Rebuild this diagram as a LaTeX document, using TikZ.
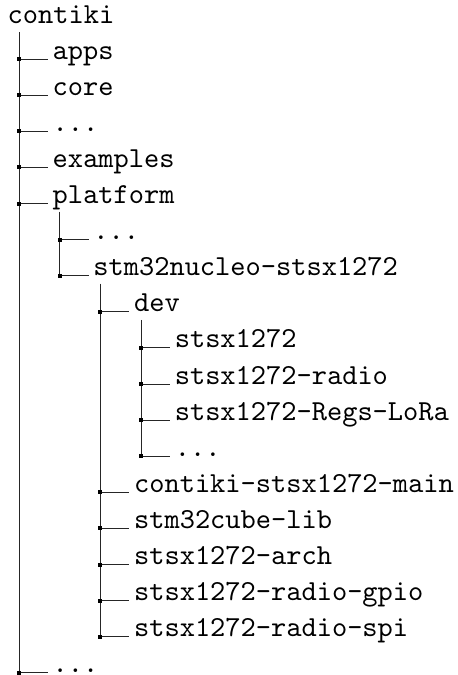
\documentclass[tikz,border=0pt]{standalone}
\font\dirtt=cmtt10 at 29pt
\newcommand\rowY[1]{-(23+36.1*#1)}
\begin{document}
\begin{tikzpicture}[x=1pt,y=1pt,
  lbl/.style={anchor=base west, inner xsep=4.5pt, inner ysep=0pt, font=\dirtt},
  jdot/.style={fill=black, inner sep=0pt, minimum size=4pt, rectangle},
  tline/.style={line width=1pt, draw=black!85}]
\useasboundingbox (0,0) rectangle (458,-675);
% level x positions
\def\xa{19}\def\xb{59.7}\def\xc{100.4}\def\xd{141.1}
% root
\node[lbl, inner xsep=0pt] (n0) at (7.5,{\rowY{0}}) {contiki};
% junction coordinates
\coordinate (j1) at (\xa,{\rowY{1}});
\coordinate (j2) at (\xa,{\rowY{2}});
\coordinate (j3) at (\xa,{\rowY{3}});
\coordinate (j4) at (\xa,{\rowY{4}});
\coordinate (j5) at (\xa,{\rowY{5}});
\coordinate (j6) at (\xb,{\rowY{6}});
\coordinate (j7) at (\xb,{\rowY{7}});
\coordinate (j8) at (\xc,{\rowY{8}});
\coordinate (j9) at (\xd,{\rowY{9}});
\coordinate (j10) at (\xd,{\rowY{10}});
\coordinate (j11) at (\xd,{\rowY{11}});
\coordinate (j12) at (\xd,{\rowY{12}});
\coordinate (j13) at (\xc,{\rowY{13}});
\coordinate (j14) at (\xc,{\rowY{14}});
\coordinate (j15) at (\xc,{\rowY{15}});
\coordinate (j16) at (\xc,{\rowY{16}});
\coordinate (j17) at (\xc,{\rowY{17}});
\coordinate (j18) at (\xa,{\rowY{18}});
% labels
\node[lbl] (n1) at ([xshift=29pt]j1) {apps};
\node[lbl] (n2) at ([xshift=29pt]j2) {core};
\node[lbl] (n3) at ([xshift=29pt]j3) {...};
\node[lbl] (n4) at ([xshift=29pt]j4) {examples};
\node[lbl] (n5) at ([xshift=29pt]j5) {platform};
\node[lbl] (n6) at ([xshift=29pt]j6) {...};
\node[lbl] (n7) at ([xshift=29pt]j7) {stm32nucleo-stsx1272};
\node[lbl] (n8) at ([xshift=29pt]j8) {dev};
\node[lbl] (n9) at ([xshift=29pt]j9) {stsx1272};
\node[lbl] (n10) at ([xshift=29pt]j10) {stsx1272-radio};
\node[lbl] (n11) at ([xshift=29pt]j11) {stsx1272-Regs-LoRa};
\node[lbl] (n12) at ([xshift=29pt]j12) {...};
\node[lbl] (n13) at ([xshift=29pt]j13) {contiki-stsx1272-main};
\node[lbl] (n14) at ([xshift=29pt]j14) {stm32cube-lib};
\node[lbl] (n15) at ([xshift=29pt]j15) {stsx1272-arch};
\node[lbl] (n16) at ([xshift=29pt]j16) {stsx1272-radio-gpio};
\node[lbl] (n17) at ([xshift=29pt]j17) {stsx1272-radio-spi};
\node[lbl] (n18) at ([xshift=29pt]j18) {...};
% vertical line tops
\coordinate (t1) at (\xa,{\rowY{0}-9});
\coordinate (t2) at (\xb,{\rowY{5}-8});
\coordinate (t3) at (\xc,{\rowY{7}-8});
\coordinate (t4) at (\xd,{\rowY{8}-8});
\draw[tline] (t1) -- (j18);
\draw[tline] (t2) -- (j7);
\draw[tline] (t3) -- (j17);
\draw[tline] (t4) -- (j12);
% horizontal branches
\foreach \k in {1,...,18}
  \draw[tline] (j\k) -- (n\k.base west);
% junction squares
\foreach \k in {1,...,18}
  \node[jdot] (d\k) at (j\k) {};
\end{tikzpicture}
\end{document}
